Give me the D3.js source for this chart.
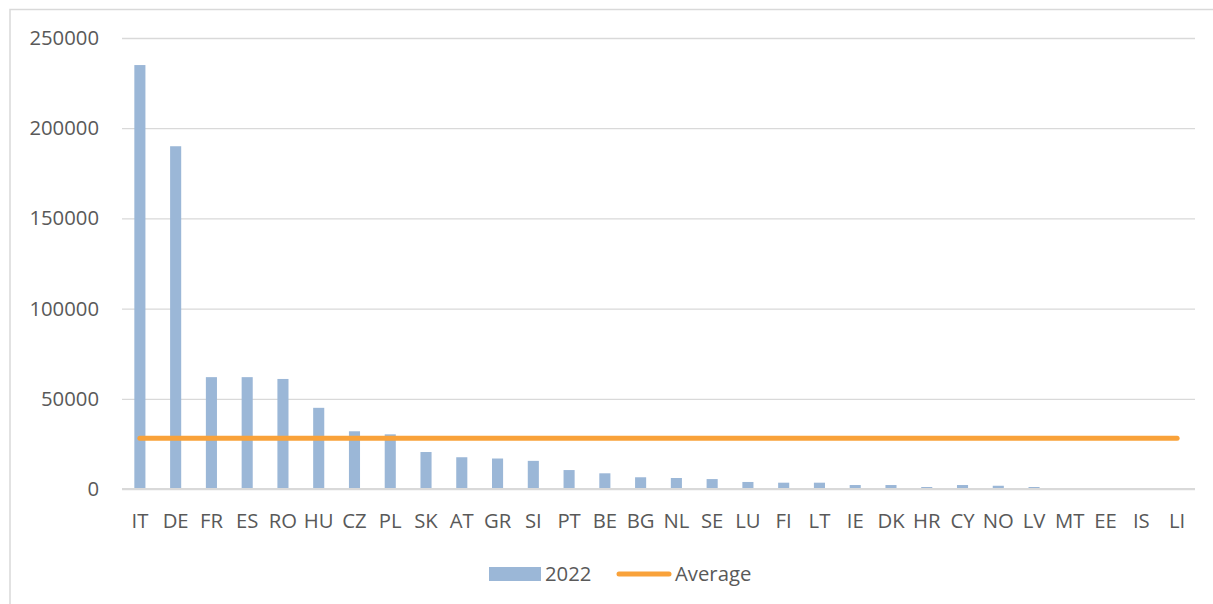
<!DOCTYPE html>
<html>
<head>
<meta charset="utf-8">
<script src="https://cdn.jsdelivr.net/npm/d3@7"></script>
<style>
  body { margin: 0; background: #fff; }
  svg { display: block; font-family: "Open Sans", "Noto Sans", sans-serif; }
  .tick text { fill: #595959; }
</style>
</head>
<body>
<div id="chart"></div>
<script>
"use strict";

// data
const countries = ["IT", "DE", "FR", "ES", "RO", "HU", "CZ", "PL", "SK", "AT",
    "GR", "SI", "PT", "BE", "BG", "NL", "SE", "LU", "FI", "LT",
    "IE", "DK", "HR", "CY", "NO", "LV", "MT", "EE", "IS", "LI"];
const values2022 = [235000, 190000, 62000, 62000, 61000, 45000, 32000, 30300, 20500, 17600,
    16900, 15600, 10500, 8700, 6500, 6100, 5500, 3900, 3500, 3500,
    2200, 2200, 1100, 2200, 1800, 1100, 300, 200, 100, 50];
const averageValue = 28200;
const yTicks = [0, 50000, 100000, 150000, 200000, 250000];
const seriesNames = ["2022", "Average"];

const svgWidth = 1213;
const svgHeight = 604;
const margin = { top: 38, right: 18, bottom: 115, left: 122 };
const width = svgWidth - margin.left - margin.right;
const height = svgHeight - margin.top - margin.bottom;

const barColor = "#9bb7d7";
const avgColor = "#f9a23a";
const gridColor = "#d9d9d9";
const textColor = "#595959";
const fontSize = 20.3;

const svg = d3.select("#chart")
    .append("svg")
    .attr("width", svgWidth)
    .attr("height", svgHeight);

// chart frame (cut by the page edge)
svg.append("rect")
    .attr("x", 10)
    .attr("y", 9.5)
    .attr("width", svgWidth + 20)
    .attr("height", svgHeight + 20)
    .attr("fill", "none")
    .attr("stroke", gridColor)
    .attr("stroke-width", 1.5);

const g = svg.append("g")
    .attr("transform", "translate(" + margin.left + "," + margin.top + ")");

const xScale = d3.scaleBand()
    .domain(countries)
    .range([0, width])
    .paddingInner(0.69)
    .paddingOuter(0.345);

const yScale = d3.scaleLinear()
    .domain([0, 250000])
    .range([height, 0]);

// gridlines
g.append("g")
    .call(d3.axisLeft(yScale).tickValues(yTicks).tickSize(-width).tickFormat(""))
    .call(a => a.select(".domain").remove())
    .call(a => a.selectAll(".tick line").attr("stroke", gridColor).attr("stroke-width", 1.3));

// y labels
g.append("g")
    .attr("transform", "translate(-20,0)")
    .call(d3.axisLeft(yScale).tickValues(yTicks).tickSize(0).tickFormat(d3.format("d")))
    .call(a => a.select(".domain").remove())
    .call(a => a.selectAll("text").attr("font-size", fontSize).attr("font-family", "Open Sans"));

// bars
g.selectAll(".bar")
    .data(countries.map((c, i) => ({ country: c, value: values2022[i] })))
    .enter().append("rect")
    .attr("class", "bar")
    .attr("x", d => xScale(d.country))
    .attr("width", xScale.bandwidth())
    .attr("y", d => yScale(d.value))
    .attr("height", d => height - yScale(d.value))
    .attr("fill", barColor);

// baseline
g.append("line")
    .attr("x1", 0)
    .attr("x2", width)
    .attr("y1", yScale(0))
    .attr("y2", yScale(0))
    .attr("stroke", gridColor)
    .attr("stroke-width", 2);

// x labels
g.append("g")
    .attr("transform", "translate(0," + height + ")")
    .call(d3.axisBottom(xScale).tickSize(0))
    .call(a => a.select(".domain").remove())
    .call(a => a.selectAll("text").attr("font-size", fontSize).attr("font-family", "Open Sans").attr("dy", "0.35em").attr("y", 32));

// average line
const firstC = countries[0];
const lastC = countries[countries.length - 1];
g.append("line")
    .attr("x1", xScale(firstC) + xScale.bandwidth() / 2)
    .attr("x2", xScale(lastC) + xScale.bandwidth() / 2)
    .attr("y1", yScale(averageValue))
    .attr("y2", yScale(averageValue))
    .attr("stroke", avgColor)
    .attr("stroke-width", 5)
    .attr("stroke-linecap", "round");

// legend
const legend = svg.append("g").attr("font-family", "Open Sans").attr("font-size", fontSize).attr("fill", textColor);
legend.append("rect")
    .attr("x", 489).attr("y", 567).attr("width", 52).attr("height", 14)
    .attr("fill", barColor);
legend.append("text")
    .attr("x", 545).attr("y", 574).attr("dy", "0.35em")
    .text(seriesNames[0]);
legend.append("line")
    .attr("x1", 619).attr("x2", 669).attr("y1", 574).attr("y2", 574)
    .attr("stroke", avgColor).attr("stroke-width", 5).attr("stroke-linecap", "round");
legend.append("text")
    .attr("x", 675).attr("y", 574).attr("dy", "0.35em")
    .text(seriesNames[1]);
</script>
</body>
</html>
